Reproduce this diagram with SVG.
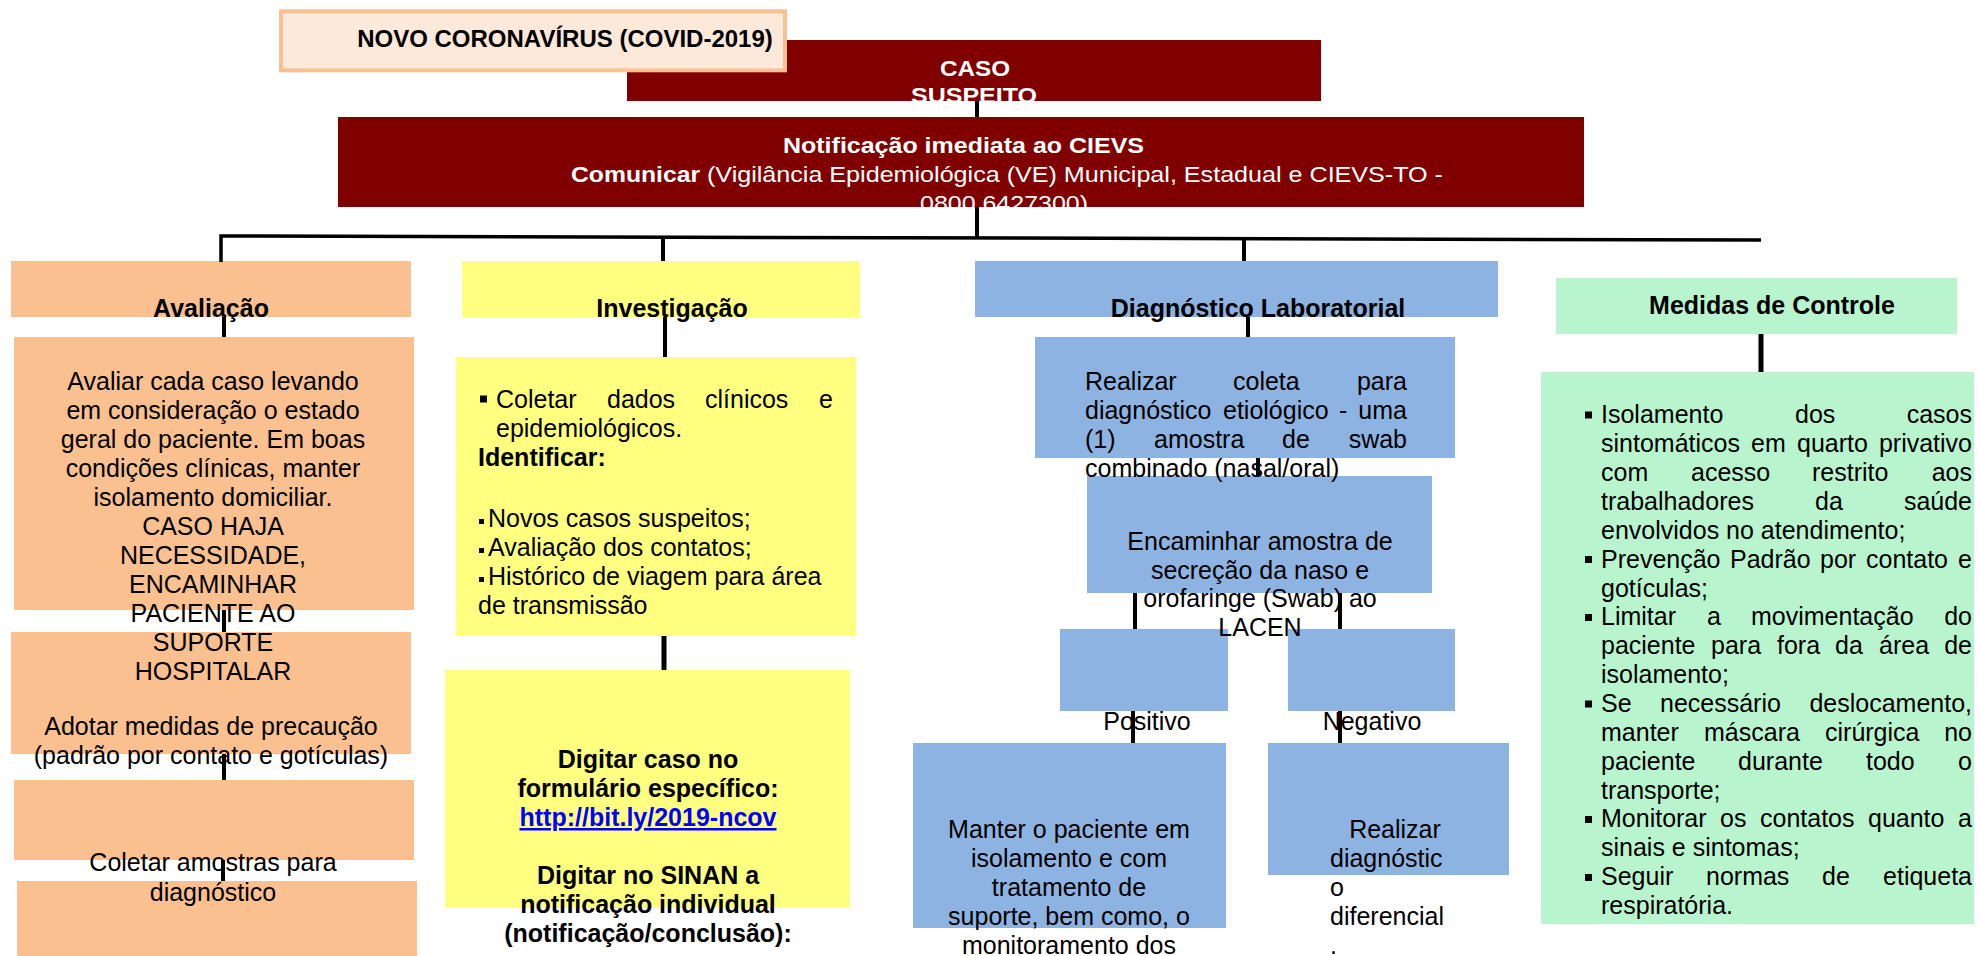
<svg xmlns="http://www.w3.org/2000/svg" width="1979" height="956" viewBox="0 0 1979 956">
<style>
text{font-family:"Liberation Sans",Arial,sans-serif;font-size:25px;fill:#000}
.b{font-weight:bold}
.w{fill:#fff}
.c{text-anchor:middle}
.e{text-anchor:end}
.n{font-size:22px}
.peach{fill:#FAC090}
.yel{fill:#FFFF80}
.blu{fill:#8DB3E2}
.mint{fill:#B8F5CE}
.red{fill:#800000}
.ln{stroke:#000;stroke-width:4;fill:none}
.bul{fill:#000}
.lk{fill:#0000FF;text-decoration:underline}
</style>
<rect width="1979" height="956" fill="#fff"/>

<g id="caso">
<rect class="red" x="627" y="40" width="694" height="61"/>
<text class="b w n" x="940" y="76" textLength="70" lengthAdjust="spacingAndGlyphs">CASO</text>
<text class="b w n" x="911" y="103" textLength="126" lengthAdjust="spacingAndGlyphs">SUSPEITO</text>
</g>

<g id="title">
<rect x="281" y="11.3" width="504" height="59" fill="#FDE9D9" stroke="#FAC090" stroke-width="4"/>
<text class="b c" x="565" y="47" style="font-size:24px">NOVO CORONAVÍRUS (COVID-2019)</text>
</g>

<g id="notif">
<rect class="red" x="338" y="117" width="1246" height="90"/>
<text class="b w n" x="783" y="153" textLength="361" lengthAdjust="spacingAndGlyphs">Notificação imediata ao CIEVS</text>
<text class="b w n" x="571" y="182" textLength="129" lengthAdjust="spacingAndGlyphs">Comunicar</text>
<text class="w n" x="707" y="182" textLength="736" lengthAdjust="spacingAndGlyphs">(Vigilância Epidemiológica (VE) Municipal, Estadual e CIEVS-TO -</text>
<text class="w n" x="920" y="211" textLength="168" lengthAdjust="spacingAndGlyphs">0800 6427300)</text>
</g>

<g id="aval-4">
<rect class="peach" x="17" y="881" width="400" height="75"/>
</g>
<g id="aval-3">
<rect class="peach" x="14" y="780" width="400" height="80"/>
<text class="c" x="213" y="871">Coletar amostras para</text>
<text class="c" x="213" y="901">diagnóstico</text>
</g>
<g id="aval-2">
<rect class="peach" x="11" y="632" width="400" height="122"/>
</g>
<g id="aval-1">
<rect class="peach" x="14" y="337" width="400" height="273"/>
<text class="c" x="213" y="390">Avaliar cada caso levando</text>
<text class="c" x="213" y="419">em consideração o estado</text>
<text class="c" x="213" y="448">geral do paciente. Em boas</text>
<text class="c" x="213" y="477">condições clínicas, manter</text>
<text class="c" x="213" y="506">isolamento domiciliar.</text>
<text class="c" x="213" y="535">CASO HAJA</text>
<text class="c" x="213" y="564">NECESSIDADE,</text>
<text class="c" x="213" y="593">ENCAMINHAR</text>
<text class="c" x="213" y="622">PACIENTE AO</text>
<text class="c" x="213" y="651">SUPORTE</text>
<text class="c" x="213" y="680">HOSPITALAR</text>
<text class="c" x="211" y="735">Adotar medidas de precaução</text>
<text class="c" x="211" y="764">(padrão por contato e gotículas)</text>
</g>
<g id="aval-header">
<rect class="peach" x="11" y="261" width="400" height="56"/>
<text class="b c" x="211" y="317">Avaliação</text>
</g>

<g id="inv-2">
<rect class="yel" x="445" y="670" width="405" height="238"/>
<text class="b c" x="648" y="768">Digitar caso no</text>
<text class="b c" x="648" y="797">formulário específico:</text>
<text class="b c lk" x="648" y="826">http://bit.ly/2019-ncov</text>
<text class="b c" x="648" y="884">Digitar no SINAN a</text>
<text class="b c" x="648" y="913">notificação individual</text>
<text class="b c" x="648" y="942">(notificação/conclusão):</text>
</g>
<g id="inv-1">
<rect class="yel" x="456" y="357" width="400" height="279"/>
<rect class="bul" x="480" y="395.5" width="7" height="7"/>
<text x="496" y="408">Coletar</text>
<text x="607" y="408">dados</text>
<text x="705" y="408">clínicos</text>
<text class="e" x="833" y="408">e</text>
<text x="496" y="437">epidemiológicos.</text>
<text class="b" x="478" y="466">Identificar:</text>
<rect class="bul" x="479" y="519" width="5" height="5"/>
<text x="488" y="527">Novos casos suspeitos;</text>
<rect class="bul" x="479" y="548" width="5" height="5"/>
<text x="488" y="556">Avaliação dos contatos;</text>
<rect class="bul" x="479" y="577" width="5" height="5"/>
<text x="488" y="585">Histórico de viagem para área</text>
<text x="478" y="614">de transmissão</text>
</g>
<g id="inv-header">
<rect class="yel" x="462" y="261" width="398" height="56"/>
<text class="b c" x="672" y="317">Investigação</text>
</g>

<g id="diag-manter">
<rect class="blu" x="913" y="743" width="313" height="185"/>
<text class="c" x="1069" y="838">Manter o paciente em</text>
<text class="c" x="1069" y="867">isolamento e com</text>
<text class="c" x="1069" y="896">tratamento de</text>
<text class="c" x="1069" y="925">suporte, bem como, o</text>
<text class="c" x="1069" y="954">monitoramento dos</text>
</g>
<g id="diag-realizar">
<rect class="blu" x="1268" y="743" width="241" height="132"/>
<text class="c" x="1395" y="838">Realizar</text>
<text x="1330" y="867">diagnóstic</text>
<text x="1330" y="896">o</text>
<text x="1330" y="925">diferencial</text>
<text x="1330" y="954">.</text>
</g>
<g id="diag-pos">
<rect class="blu" x="1060" y="629" width="168" height="82"/>
<text class="c" x="1147" y="730">Positivo</text>
</g>
<g id="diag-neg">
<rect class="blu" x="1288" y="629" width="167" height="82"/>
<text class="c" x="1372" y="730">Negativo</text>
</g>
<g id="diag-2">
<rect class="blu" x="1087" y="476" width="345" height="117"/>
<text class="c" x="1260" y="550">Encaminhar amostra de</text>
<text class="c" x="1260" y="579">secreção da naso e</text>
<text class="c" x="1260" y="607">orofaringe (Swab) ao</text>
<text class="c" x="1260" y="636">LACEN</text>
</g>
<g id="diag-1">
<rect class="blu" x="1035" y="337" width="420" height="121"/>
<text x="1085" y="390">Realizar</text>
<text x="1233" y="390">coleta</text>
<text class="e" x="1407" y="390">para</text>
<text x="1085" y="419">diagnóstico</text>
<text x="1223" y="419">etiológico</text>
<text x="1339" y="419">-</text>
<text class="e" x="1407" y="419">uma</text>
<text x="1085" y="448">(1)</text>
<text x="1154" y="448">amostra</text>
<text x="1282" y="448">de</text>
<text class="e" x="1407" y="448">swab</text>
<text x="1085" y="477">combinado (nasal/oral)</text>
</g>
<g id="diag-header">
<rect class="blu" x="975" y="261" width="523" height="56"/>
<text class="b c" x="1258" y="317">Diagnóstico Laboratorial</text>
</g>

<g id="med-1">
<rect class="mint" x="1541" y="372" width="433" height="552"/>
<rect class="bul" x="1585" y="411.5" width="7" height="7"/>
<text x="1601" y="423">Isolamento</text><text x="1795" y="423">dos</text><text class="e" x="1972" y="423">casos</text>
<text x="1601" y="452">sintomáticos</text><text x="1751" y="452">em</text><text x="1797" y="452">quarto</text><text class="e" x="1972" y="452">privativo</text>
<text x="1601" y="481">com</text><text x="1691" y="481">acesso</text><text x="1812" y="481">restrito</text><text class="e" x="1972" y="481">aos</text>
<text x="1601" y="510">trabalhadores</text><text x="1815" y="510">da</text><text class="e" x="1972" y="510">saúde</text>
<text x="1601" y="539">envolvidos no atendimento;</text>
<rect class="bul" x="1585" y="556" width="7" height="7"/>
<text x="1601" y="568">Prevenção</text><text x="1730" y="568">Padrão</text><text x="1820" y="568">por</text><text x="1866" y="568">contato</text><text class="e" x="1972" y="568">e</text>
<text x="1601" y="597">gotículas;</text>
<rect class="bul" x="1585" y="614" width="7" height="7"/>
<text x="1601" y="625">Limitar</text><text x="1707" y="625">a</text><text x="1751" y="625">movimentação</text><text class="e" x="1972" y="625">do</text>
<text x="1601" y="654">paciente</text><text x="1711" y="654">para</text><text x="1777" y="654">fora</text><text x="1835" y="654">da</text><text x="1879" y="654">área</text><text class="e" x="1972" y="654">de</text>
<text x="1601" y="683">isolamento;</text>
<rect class="bul" x="1585" y="700.5" width="7" height="7"/>
<text x="1601" y="712">Se</text><text x="1660" y="712">necessário</text><text class="e" x="1972" y="712">deslocamento,</text>
<text x="1601" y="741">manter</text><text x="1704" y="741">máscara</text><text x="1825" y="741">cirúrgica</text><text class="e" x="1972" y="741">no</text>
<text x="1601" y="770">paciente</text><text x="1738" y="770">durante</text><text x="1866" y="770">todo</text><text class="e" x="1972" y="770">o</text>
<text x="1601" y="799">transporte;</text>
<rect class="bul" x="1585" y="816" width="7" height="7"/>
<text x="1601" y="827">Monitorar</text><text x="1720" y="827">os</text><text x="1760" y="827">contatos</text><text x="1868" y="827">quanto</text><text class="e" x="1972" y="827">a</text>
<text x="1601" y="856">sinais e sintomas;</text>
<rect class="bul" x="1585" y="874" width="7" height="7"/>
<text x="1601" y="885">Seguir</text><text x="1706" y="885">normas</text><text x="1822" y="885">de</text><text class="e" x="1972" y="885">etiqueta</text>
<text x="1601" y="914">respiratória.</text>
</g>
<g id="med-header">
<rect class="mint" x="1556" y="278" width="401" height="56"/>
<text class="b c" x="1772" y="314">Medidas de Controle</text>
</g>

<g id="connectors">
<line class="ln" x1="977" y1="101" x2="977" y2="117"/>
<line class="ln" x1="977" y1="207" x2="977" y2="238"/>
<polyline class="ln" points="221,262 221,236 1761,240" style="stroke-width:3.5"/>
<line class="ln" x1="663" y1="237" x2="663" y2="261"/>
<line class="ln" x1="1244" y1="239" x2="1244" y2="261"/>
<line class="ln" x1="224" y1="317" x2="224" y2="337"/>
<line class="ln" x1="224" y1="610" x2="224" y2="632"/>
<line class="ln" x1="224" y1="754" x2="224" y2="780"/>
<line class="ln" x1="223" y1="860" x2="223" y2="881"/>
<line class="ln" x1="665" y1="317" x2="665" y2="357"/>
<line class="ln" x1="664" y1="636" x2="664" y2="670" style="stroke-width:5"/>
<line class="ln" x1="1248" y1="317" x2="1248" y2="337"/>
<line class="ln" x1="1258" y1="458" x2="1258" y2="476"/>
<line class="ln" x1="1135" y1="593" x2="1135" y2="629"/>
<line class="ln" x1="1340" y1="593" x2="1340" y2="629"/>
<line class="ln" x1="1133" y1="711" x2="1133" y2="743"/>
<line class="ln" x1="1340" y1="711" x2="1340" y2="743"/>
<line class="ln" x1="1761" y1="334" x2="1761" y2="372" style="stroke-width:5"/>
</g>
</svg>
